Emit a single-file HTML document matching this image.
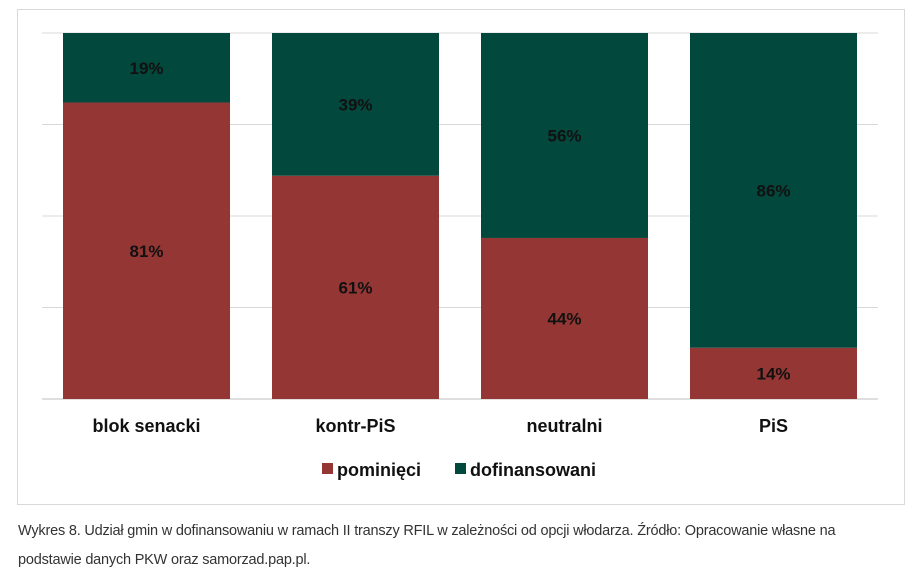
<!DOCTYPE html>
<html><head><meta charset="utf-8"><style>
body{margin:0;background:#fff;width:917px;height:575px;overflow:hidden;font-family:"Liberation Sans",sans-serif;}
#frame{position:absolute;left:17px;top:9px;width:886px;height:494px;border:1px solid #d9d9d9;}
#cap{position:absolute;left:18px;top:517px;font-size:14.5px;color:#333;line-height:29px;letter-spacing:-0.2px;}
</style></head><body>
<div id="frame"></div>
<svg id="chart" width="917" height="510" style="position:absolute;left:0;top:0"></svg>
<div id="cap">Wykres 8. Udział gmin w dofinansowaniu w ramach II transzy RFIL w zależności od opcji włodarza. Źródło: Opracowanie własne na<br>podstawie danych PKW oraz samorzad.pap.pl.</div>
<script>
const categories=["blok senacki","kontr-PiS","neutralni","PiS"];
const pominieci=[81,61,44,14];
const dofinansowani=[19,39,56,86];
const seriesNames=["pominięci","dofinansowani"];
const NS="http://www.w3.org/2000/svg";
const svg=document.getElementById('chart');
const x0=42,x1=878,yTop=33,yBot=399,bw=167;
const y=v=>yBot-(v/100)*(yBot-yTop);
const step=(x1-x0)/categories.length;
const bx=i=>x0+step*i+(step-bw)/2;
function mk(t,a,txt){const e=document.createElementNS(NS,t);for(const k in a)e.setAttribute(k,a[k]);if(txt!=null)e.textContent=txt;svg.appendChild(e);return e;}
for(let g=0;g<=4;g++){const l=mk('line',{x1:x0,x2:x1,y1:y(g*25),y2:y(g*25),stroke:g==0?'#bfbfbf':'#d9d9d9','stroke-width':1});
}
const cols=['#943634','#03483d'];
categories.forEach((c,i)=>{
 const a=pominieci[i],b=dofinansowani[i];
 const r1=mk('rect',{x:bx(i),y:y(a),width:bw,height:y(0)-y(a),fill:cols[0]});
 
 const r2=mk('rect',{x:bx(i),y:y(a+b),width:bw,height:y(a)-y(a+b),fill:cols[1]});
 
 const t1=mk('text',{x:bx(i)+bw/2,y:(y(a)+y(0))/2+6,'text-anchor':'middle','font-size':17,'font-weight':'bold',fill:'#111'},a+'%');
 
 const t2=mk('text',{x:bx(i)+bw/2,y:(y(a+b)+y(a))/2+6,'text-anchor':'middle','font-size':17,'font-weight':'bold',fill:'#111'},b+'%');
 
 const cl=mk('text',{x:bx(i)+bw/2,y:432,'text-anchor':'middle','font-size':18,'font-weight':'bold',fill:'#111'},c);
 
});
const lx=[322,455];
seriesNames.forEach((n,i)=>{
 const s=mk('rect',{x:lx[i],y:463,width:11,height:11,fill:cols[i]});
 
 const t=mk('text',{x:lx[i]+15,y:476,'font-size':18,'font-weight':'bold',fill:'#111'},n);
 
});
</script>
</body></html>
